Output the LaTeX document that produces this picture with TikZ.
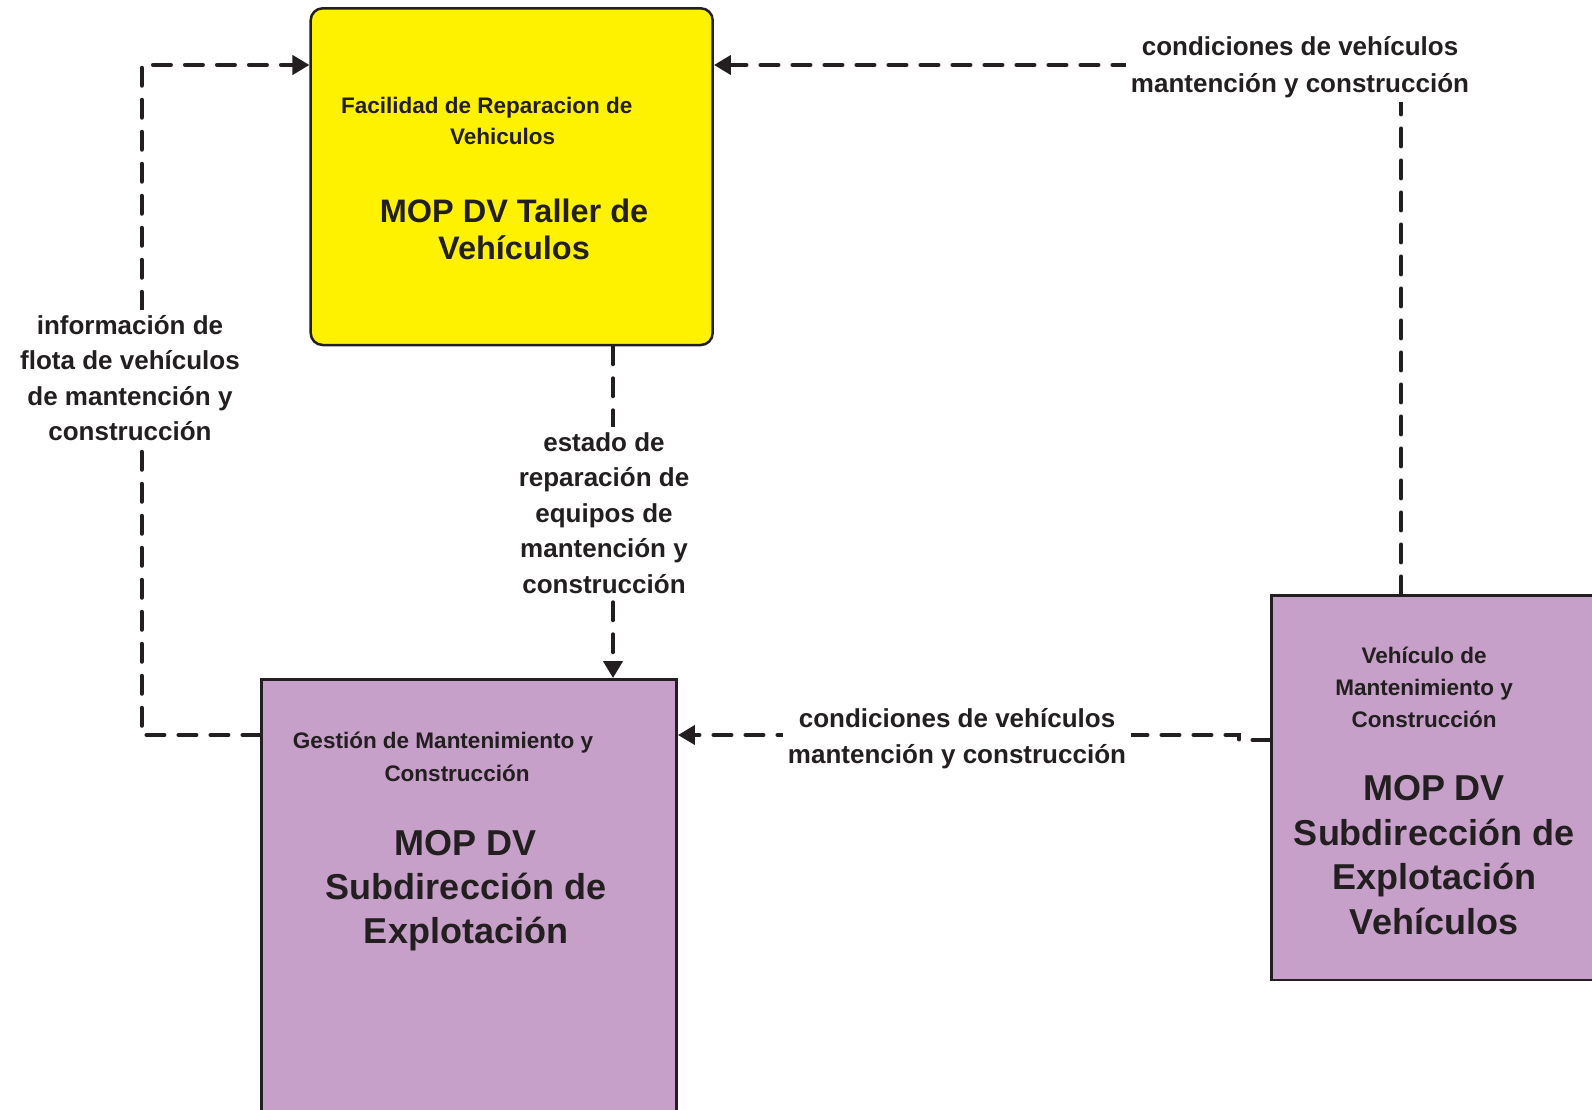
\documentclass[tikz,border=0pt]{standalone}
\usepackage{fontspec}
\setmainfont{Liberation Sans}
\usetikzlibrary{arrows.meta}
\definecolor{ink}{RGB}{35,31,32}
\definecolor{yel}{RGB}{255,242,0}
\definecolor{lil}{RGB}{198,160,201}
\tikzset{
  boxshape/.style={draw=ink, line width=2.5pt, inner sep=0pt},
  flowline/.style={draw=ink, line width=4pt, dash pattern=on 18pt off 14pt, line cap=round},
  flowarrow/.style={flowline, -{Triangle[length=17pt,width=19pt]}},
  lbl/.style={fill=white, inner sep=5pt, align=center, text=ink, font=\bfseries\fontsize{26}{35.5}\selectfont},
  smalltxt/.style={align=center, text=ink, inner sep=0pt, font=\bfseries\fontsize{22.5}{31}\selectfont},
  bigtxt/.style={align=center, text=ink, inner sep=0pt, font=\bfseries\fontsize{36}{43.5}\selectfont},
  midtxt/.style={align=center, text=ink, inner sep=0pt, font=\bfseries\fontsize{32.5}{37}\selectfont},
}
\begin{document}
\begin{tikzpicture}[x=1pt,y=-1pt]
\useasboundingbox (0,0) rectangle (1592,1110);
\clip (0,0) rectangle (1592,1110);

% boxes
\node[boxshape, fill=yel, rounded corners=12pt, minimum width=402pt, minimum height=336.7pt] (taller) at (511.7,176.65) {};
\node[boxshape, fill=lil, minimum width=415pt, minimum height=450.7pt] (gestion) at (469.2,904.65) {};
\node[boxshape, fill=lil, minimum width=340.3pt, minimum height=384.3pt] (veh) at (1441.85,787.85) {};

% box texts
\node[smalltxt] (tallersub) at (486.7,121) {Facilidad de Reparacion de\\\hspace*{32pt}Vehiculos};
\node[midtxt] (tallername) at (514,229) {MOP DV Taller de\\Vehículos};
\node[smalltxt, font=\bfseries\fontsize{22.5}{33.5}\selectfont] (gestionsub) at (443,757) {Gestión de Mantenimiento y\\\hspace*{28pt}Construcción};
\node[bigtxt, font=\bfseries\fontsize{36}{44}\selectfont] (gestionname) at (466,890.5) {MOP DV\\Subdirección de\\Explotación};
\node[smalltxt, font=\bfseries\fontsize{22.5}{32}\selectfont] (vehsub) at (1424,687) {Vehículo de\\Mantenimiento y\\Construcción};
\node[bigtxt, font=\bfseries\fontsize{36}{44.7}\selectfont] (vehname) at (1434,855) {MOP DV\\Subdirección de\\Explotación\\Vehículos};

% bend points
\coordinate (b1) at (141.7,735);
\coordinate (b2) at (141.7,65);
\coordinate (c1) at (1401,65);
\coordinate (m1) at (613,0);
\coordinate (j1) at (1239,740);
\coordinate (j2) at (1239,735);

% connectors
\draw[flowarrow] (gestion.west |- b1) -- (b1) -- (b2) -- (taller.west |- b2);
\draw[flowarrow] (veh.north -| c1) -- (c1) -- (taller.east |- c1);
\draw[flowarrow] (taller.south -| m1) -- (gestion.north -| m1);
\draw[flowarrow] (veh.west |- j1) -- (j1) -- (j2) -- (gestion.east |- j2);

% labels
\node[lbl] (l1) at (130,378) {información de\\flota de vehículos\\de mantención y\\construcción};
\node[lbl, font=\bfseries\fontsize{26}{36.5}\selectfont] (l2) at (1300,67) {condiciones de vehículos\\mantención y construcción};
\node[lbl] (l3) at (604,513) {estado de\\reparación de\\equipos de\\mantención y\\construcción};
\node[lbl] (l4) at (957,738.5) {condiciones de vehículos\\mantención y construcción};
\end{tikzpicture}
\end{document}
